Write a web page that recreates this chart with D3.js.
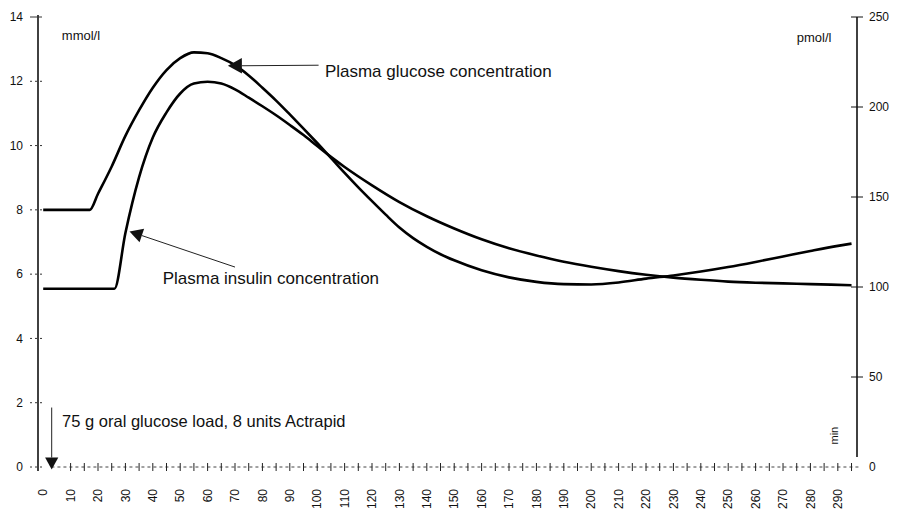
<!DOCTYPE html>
<html><head><meta charset="utf-8">
<script src="https://cdn.jsdelivr.net/npm/d3@7/dist/d3.min.js"></script>
<style>
body{margin:0;background:#fff}
svg{display:block;background:#fff}
text{font-family:"Liberation Sans",Arial,sans-serif;fill:#111}
</style>
</head><body>
<svg id="chart" width="900" height="509"></svg>
<script>
// ---- data ----
const glucoseTimes  = [0, 5, 10, 15, 17, 20, 25, 30, 35, 40, 45, 50, 55, 60, 65, 70, 75, 80, 85, 90, 95, 100, 105, 110, 115, 120, 125, 130, 135, 140, 145, 150, 160, 170, 180, 190, 200, 210, 220, 230, 240, 250, 260, 270, 280, 290, 295];
const glucoseValues = [8.0, 8.0, 8.0, 8.0, 8.0, 8.5, 9.35, 10.3, 11.1, 11.8, 12.35, 12.72, 12.9, 12.87, 12.72, 12.5, 12.18, 11.8, 11.4, 10.97, 10.53, 10.08, 9.62, 9.15, 8.7, 8.27, 7.85, 7.45, 7.12, 6.85, 6.62, 6.43, 6.12, 5.9, 5.76, 5.69, 5.68, 5.74, 5.86, 5.96, 6.08, 6.22, 6.38, 6.55, 6.72, 6.88, 6.95];
const insulinTimes  = [0, 10, 20, 26, 30, 35, 40, 45, 50, 55, 60, 65, 70, 75, 80, 85, 90, 95, 100, 105, 110, 120, 130, 140, 150, 160, 170, 180, 190, 200, 210, 220, 230, 240, 250, 260, 270, 280, 295];
const insulinValues = [99, 99, 99, 99, 130, 161, 183, 197, 207.5, 213, 214, 213, 209.8, 205.2, 200.4, 195.4, 190, 184.4, 178.3, 172.3, 166.7, 156.5, 147.2, 139.3, 132.5, 126.5, 121.5, 117.5, 114, 111.2, 108.8, 106.8, 105.2, 104, 103, 102.4, 102, 101.6, 101];
const xTickLabels = d3.range(0, 291, 10);
const xMinorTicks = d3.range(0, 296, 5);
const leftTicks  = [0, 2, 4, 6, 8, 10, 12, 14];
const rightTicks = [0, 50, 100, 150, 200, 250];
const leftUnit = "mmol/l", rightUnit = "pmol/l", xUnit = "min";
const glucoseLabel = "Plasma glucose concentration";
const insulinLabel = "Plasma insulin concentration";
const loadLabel = "75 g oral glucose load, 8 units Actrapid";

// ---- scales ----
const svg = d3.select("#chart");
const x  = d3.scaleLinear().domain([-1.9, 297]).range([38, 857]);
const yL = d3.scaleLinear().domain([0, 14]).range([467, 17]);
const yR = d3.scaleLinear().domain([0, 250]).range([467, 17]);

// ---- left axis ----
const gL = svg.append("g").attr("transform", `translate(${x.range()[0]},0)`);
gL.append("line").attr("y1", yL(14) - 2).attr("y2", yL(0) + 4).attr("stroke", "#111").attr("stroke-width", 1.6);
gL.selectAll(".lt").data(leftTicks).join("line")
  .attr("x1", -8).attr("x2", 4).attr("y1", d => yL(d)).attr("y2", d => yL(d))
  .attr("stroke", "#333").attr("stroke-width", 1).attr("stroke-dasharray", d => d === 14 ? null : "2,3");
gL.selectAll(".ll").data(leftTicks).join("text")
  .attr("x", -15).attr("y", d => yL(d)).attr("dy", "0.35em")
  .attr("text-anchor", "end").attr("font-size", 12).text(d => d);

// ---- right axis ----
const gR = svg.append("g").attr("transform", `translate(${x.range()[1]},0)`);
gR.append("line").attr("y1", yR(250)).attr("y2", yR(0) - 10).attr("stroke", "#111").attr("stroke-width", 1.6);
gR.selectAll(".rt").data(rightTicks.filter(d => d > 0)).join("line")
  .attr("x1", -6).attr("x2", 6).attr("y1", d => yR(d)).attr("y2", d => yR(d))
  .attr("stroke", "#111").attr("stroke-width", 1);
gR.selectAll(".rl").data(rightTicks).join("text")
  .attr("x", 12).attr("y", d => yR(d)).attr("dy", "0.35em")
  .attr("font-size", 12).text(d => d);

// ---- x axis ----
const gX = svg.append("g").attr("transform", `translate(0,${yL(0)})`);
gX.append("line").attr("x1", x(3)).attr("x2", x(297) + 4)
  .attr("stroke", "#444").attr("stroke-width", 1).attr("stroke-dasharray", "3,3");
gX.selectAll(".xt").data(xMinorTicks.filter(d => d >= 10)).join("line")
  .attr("x1", d => x(d)).attr("x2", d => x(d)).attr("y1", -4).attr("y2", 4)
  .attr("stroke", "#222").attr("stroke-width", 1);
gX.selectAll(".xl").data(xTickLabels).join("text")
  .attr("transform", d => `translate(${x(d)},22) rotate(-90)`)
  .attr("text-anchor", "end").attr("dy", "0.35em").attr("font-size", 12).text(d => d);

// ---- curves ----
const lineL = d3.line().x(d => x(d[0])).y(d => yL(d[1])).curve(d3.curveMonotoneX);
const lineR = d3.line().x(d => x(d[0])).y(d => yR(d[1])).curve(d3.curveMonotoneX);
svg.append("path").datum(d3.zip(glucoseTimes, glucoseValues)).attr("d", lineL)
  .attr("fill", "none").attr("stroke", "#000").attr("stroke-width", 2.6).attr("stroke-linejoin", "round");
svg.append("path").datum(d3.zip(insulinTimes, insulinValues)).attr("d", lineR)
  .attr("fill", "none").attr("stroke", "#000").attr("stroke-width", 2.6).attr("stroke-linejoin", "round");

// ---- unit labels ----
svg.append("text").attr("x", x(6.8)).attr("y", yL(13.3)).attr("font-size", 13).text(leftUnit);
svg.append("text").attr("x", x(275)).attr("y", yR(236)).attr("font-size", 13).text(rightUnit);
svg.append("text").attr("transform", `translate(${x(288.5)},${yL(0.7)}) rotate(-90)`)
  .attr("font-size", 11).attr("dy", "0.35em").text(xUnit);

// ---- annotations (anchored in data space) ----
function arrow(tip, from, size) {
  const [tx, ty] = tip, [fx, fy] = from;
  const a = Math.atan2(fy - ty, fx - tx);
  const w = size * 0.55;
  const bx = tx + Math.cos(a) * size, by = ty + Math.sin(a) * size;
  const p = [[tx, ty], [bx + Math.cos(a + Math.PI / 2) * w, by + Math.sin(a + Math.PI / 2) * w],
             [bx - Math.cos(a + Math.PI / 2) * w, by - Math.sin(a + Math.PI / 2) * w]];
  svg.append("path").attr("d", "M" + p.map(q => q.join(",")).join("L") + "Z").attr("fill", "#111");
  svg.append("line").attr("x1", bx).attr("y1", by).attr("x2", fx).attr("y2", fy)
    .attr("stroke", "#222").attr("stroke-width", 1);
}
// glucose
arrow([x(67.4), yL(12.48)], [x(100.5), yL(12.5)], 14);
svg.append("text").attr("x", x(102.8)).attr("y", yL(12.14)).attr("font-size", 17).text(glucoseLabel);
// insulin
arrow([x(31.5), yL(7.33)], [x(70), yL(6.22)], 13);
svg.append("text").attr("x", x(43.6)).attr("y", yL(5.69)).attr("font-size", 17).text(insulinLabel);
// load
arrow([x(3.1), yL(-0.08)], [x(3.1), yL(1.85)], 12);
svg.append("text").attr("x", x(6.9)).attr("y", yL(1.24)).attr("font-size", 16.5).text(loadLabel);
</script>
</body></html>
